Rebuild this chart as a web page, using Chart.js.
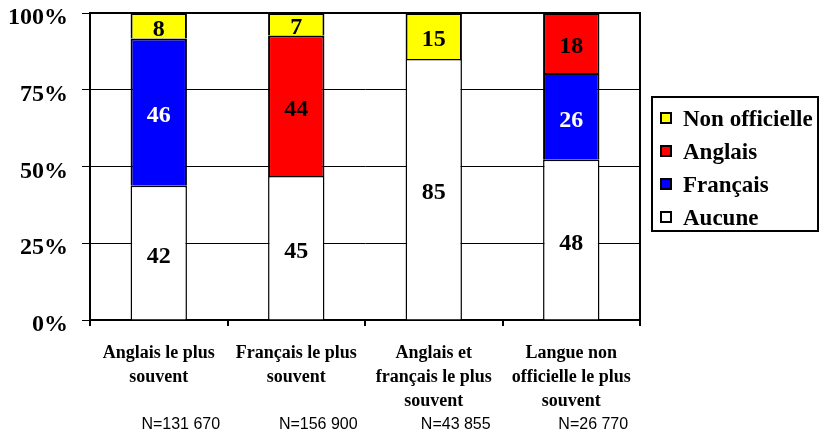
<!DOCTYPE html>
<html>
<head>
<meta charset="utf-8">
<script src="https://cdn.jsdelivr.net/npm/chart.js@4"></script>
<style>
  html, body { margin: 0; padding: 0; background: #fff; }
</style>
</head>
<body>
<canvas id="langChart" width="820" height="435"></canvas>
<script>
// données du graphique
const categories = [
    ["Anglais le plus", "souvent"],
    ["Français le plus", "souvent"],
    ["Anglais et", "français le plus", "souvent"],
    ["Langue non", "officielle le plus", "souvent"]
];
const sampleSizes = ["N=131 670", "N=156 900", "N=43 855", "N=26 770"];
const aucune = [42, 45, 85, 48];
const francais = [46, 0, 0, 26];
const anglais = [0, 44, 0, 18];
const nonOfficielle = [8, 7, 15, 0];
const yTicks = [0, 25, 50, 75, 100];

const serif = "'Liberation Serif', 'Times New Roman', serif";
const sans = "'Liberation Sans', Arial, sans-serif";

// totaux par catégorie (barres empilées à 100 %)
const totals = aucune.map((v, i) => v + francais[i] + anglais[i] + nonOfficielle[i]);
const pct = arr => arr.map((v, i) => v / totals[i] * 100);

const series = [
    { label: 'Aucune', raw: aucune, color: '#FFFFFF', border: 1.5, text: '#000' },
    { label: 'Français', raw: francais, color: '#0000FF', border: 2, text: '#FFF' },
    { label: 'Anglais', raw: anglais, color: '#FF0000', border: 2, text: '#000' },
    { label: 'Non officielle', raw: nonOfficielle, color: '#FFFF00', border: 2, text: '#000' }
];

// étiquettes dans les barres, cadre, légende et N=
const extras = {
    id: 'extras',
    afterDatasetsDraw(chart) {
        const ctx = chart.ctx;
        ctx.save();
        ctx.font = "bold 24px " + serif;
        ctx.textAlign = 'center';
        ctx.textBaseline = 'middle';
        chart.data.datasets.forEach((ds, di) => {
            const meta = chart.getDatasetMeta(di);
            meta.data.forEach((bar, i) => {
                const v = series[di].raw[i];
                if (!v) return;
                ctx.fillStyle = series[di].text;
                ctx.fillText(String(v), bar.x, (bar.y + bar.base) / 2 + 4);
            });
        });
        ctx.restore();
    },
    afterDraw(chart) {
        const ctx = chart.ctx;
        const a = chart.chartArea;
        ctx.save();
        // cadre haut et droite
        ctx.strokeStyle = '#000';
        ctx.lineWidth = 2;
        ctx.beginPath();
        ctx.moveTo(a.left, a.top);
        ctx.lineTo(a.right, a.top);
        ctx.lineTo(a.right, a.bottom);
        ctx.stroke();

        // N=
        const xs = chart.scales.x;
        ctx.fillStyle = '#000';
        ctx.font = "16px " + sans;
        ctx.textAlign = 'center';
        ctx.textBaseline = 'middle';
        sampleSizes.forEach((t, i) => {
            ctx.fillText(t, xs.getPixelForValue(i) + 22, 425);
        });

        // légende
        const lx = 652, ly = 97, lw = 166, lh = 134;
        ctx.lineWidth = 2;
        ctx.strokeRect(lx, ly, lw, lh);
        ctx.font = "bold 23px " + serif;
        ctx.textAlign = 'left';
        const order = series.slice().reverse();
        order.forEach((s, k) => {
            const cy = ly + 21 + k * 33;
            ctx.fillStyle = s.color;
            ctx.fillRect(661, cy - 5, 10, 10);
            ctx.lineWidth = 2;
            ctx.strokeStyle = '#000';
            ctx.strokeRect(661, cy - 5, 10, 10);
            ctx.fillStyle = '#000';
            ctx.fillText(s.label, 683, cy + 2);
        });
        ctx.restore();
    }
};

new Chart(document.getElementById('langChart').getContext('2d'), {
    type: 'bar',
    data: {
        labels: categories,
        datasets: series.map(s => ({
            label: s.label,
            data: pct(s.raw),
            backgroundColor: s.color,
            borderColor: '#000',
            borderWidth: s.border,
            borderSkipped: 'start',
            barPercentage: 0.41,
            categoryPercentage: 1
        }))
    },
    options: {
        responsive: false,
        animation: false,
        layout: { padding: { top: 13, right: 180, left: 0, bottom: 0 } },
        plugins: {
            legend: { display: false },
            tooltip: { enabled: false }
        },
        scales: {
            x: {
                stacked: true,
                grid: { offset: true, drawOnChartArea: false, drawTicks: true, tickLength: 6, color: '#000', lineWidth: 2 },
                border: { display: true, color: '#000', width: 2 },
                ticks: {
                    color: '#000',
                    font: { family: serif, size: 18, weight: 'bold', lineHeight: 1.333 },
                    maxRotation: 0,
                    autoSkip: false,
                    padding: 15
                },
                afterFit: s => { s.height = 115; s.paddingLeft = 0; s.paddingRight = 0; }
            },
            y: {
                stacked: true,
                min: 0,
                max: 100,
                afterBuildTicks: s => { s.ticks = yTicks.map(v => ({ value: v })); },
                grid: { color: '#000', lineWidth: 1, tickLength: 8 },
                border: { display: true, color: '#000', width: 2 },
                ticks: {
                    color: '#000',
                    font: { family: serif, size: 24, weight: 'bold' },
                    padding: 14,
                    labelOffset: 5,
                    callback: v => v + '%'
                },
                afterFit: s => { s.width = 90; s.paddingTop = 0; s.paddingBottom = 0; }
            }
        }
    },
    plugins: [extras]
});
</script>
</body>
</html>
